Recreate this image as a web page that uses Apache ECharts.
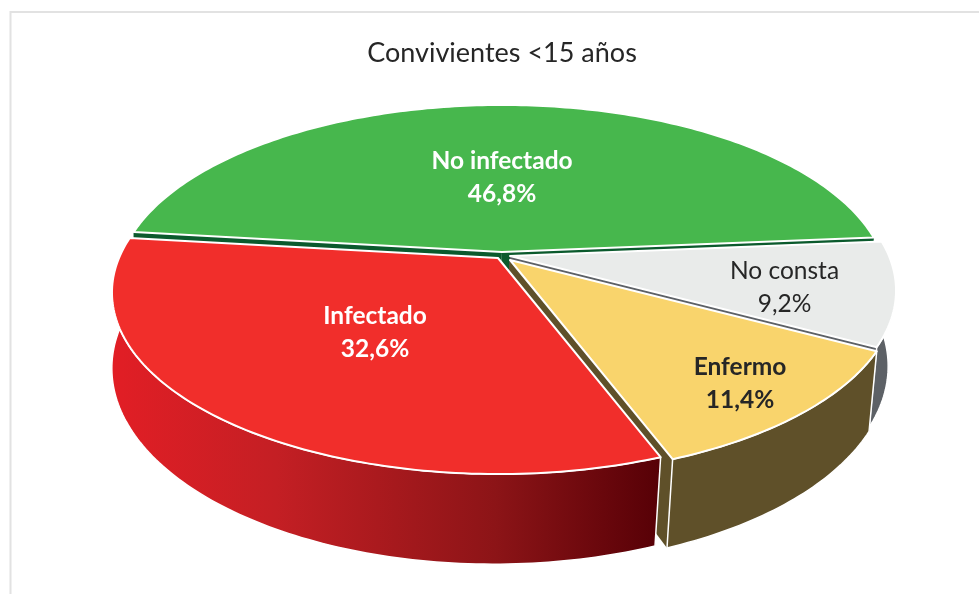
<!DOCTYPE html>
<html><head><meta charset="utf-8"><style>html,body{margin:0;padding:0;background:#fff}#c{width:979px;height:594px}</style>
<script src="https://cdn.jsdelivr.net/npm/echarts@6/dist/echarts.min.js"></script></head>
<body><div id="c"></div><script>
var categories = ['No infectado','No consta','Enfermo','Infectado'];
var percentValues = [46.8, 9.2, 11.4, 32.6];
var chartTitle = 'Convivientes <15 años';

var topColors = ['#47b74d','#e9ebea','#f9d46c','#f12e2b'];
var wallColors = ['#0b5a2d','#5d6166','#5f5029',null];
var labelColors = ['#ffffff','#262626','#262626','#ffffff'];
var labelBold = [true,false,true,true];
var sliceShift = [[502,252],[510,256],[510,260],[498,258]];
var labelSpot = [[0,0.46],[0.70,-0.177],[0.535,-0.624],[-0.30,-0.396]];

var A = 379, B = 175, P = 0.19, DEPTH = 73, SHRINK = 0.99, LOW_DX = -4;
var START = -83.3;

function proj(c,u,v,low){
  var w = 1 + P*v, x = A*u/w, y = -B*v/w;
  if(low){ x = x*SHRINK + LOW_DX; y += DEPTH/w; }
  return [c[0]+x, c[1]+y];
}
function polar(c,deg,low){var t=deg*Math.PI/180;return proj(c,Math.sin(t),Math.cos(t),low);}
function arc(c,a0,a1,low){var n=Math.ceil(Math.abs(a1-a0)),p=[];for(var i=0;i<=n;i++)p.push(polar(c,a0+(a1-a0)*i/n,low));return p;}

var total = percentValues.reduce(function(s,v){return s+v;},0);
var starts = []; percentValues.reduce(function(s,v,i){starts[i]=s;return s+v;},0);

function renderSlice(params, api){
  var i = params.dataIndex, v = api.value(0), c = sliceShift[i];
  var a0 = START + starts[i]/total*360, a1 = a0 + v/total*360;
  var wall = wallColors[i] || {type:'linear',x:0,y:0,x2:1,y2:0,colorStops:[
    {offset:0,color:'#e21e25'},{offset:0.3,color:'#c41f24'},{offset:0.7,color:'#8c1417'},{offset:1,color:'#560006'}]};
  function poly(pts,fill,z,lw){return {type:'polygon',z2:z,silent:true,shape:{points:pts},
    style:{fill:fill,stroke:lw?'#fff':null,lineWidth:lw||0,lineJoin:'round'}};}
  var apexT = proj(c,0,0,false), apexL = proj(c,0,0,true);
  var rimT = arc(c,a0,a1,false), rimL = arc(c,a0,a1,true).reverse();
  var p = proj(c,labelSpot[i][0],labelSpot[i][1],false);
  var children = [
    poly([apexT,rimT[0],polar(c,a0,true),apexL],wall,1,0),
    poly([apexT,rimT[rimT.length-1],polar(c,a1,true),apexL],wall,1,0),
    poly(rimT.concat(rimL),wall,2,i===0?0:1.5),
    poly([apexT].concat(rimT),topColors[i],3,2),
    {type:'text',z2:10,silent:true,style:{
        x:p[0],y:p[1],text:categories[i]+'\n'+String(v).replace('.',',')+'%',
        align:'center',verticalAlign:'middle',fill:labelColors[i],
        font:(labelBold[i]?'bold ':'')+'24.5px Lato',lineHeight:33}}
  ];
  return {type:'group',children:children};
}
var chart = echarts.init(document.getElementById('c'),null,{renderer:'canvas'});
chart.setOption({
  animation:false,backgroundColor:'#ffffff',
  title:{text:chartTitle,left:497,top:35,textAlign:'center',textStyle:{fontFamily:'Lato',fontSize:27,fontWeight:'normal',color:'#262626'}},
  graphic:[
    {type:'line',shape:{x1:10,y1:12,x2:979,y2:12},style:{stroke:'#e2e2e2',lineWidth:2}},
    {type:'line',shape:{x1:10.5,y1:11,x2:10.5,y2:594},style:{stroke:'#e2e2e2',lineWidth:2}}
  ],
  series:[{type:'custom',coordinateSystem:'none',renderItem:renderSlice,data:percentValues.map(function(v){return [v];})}]
});
</script></body></html>
